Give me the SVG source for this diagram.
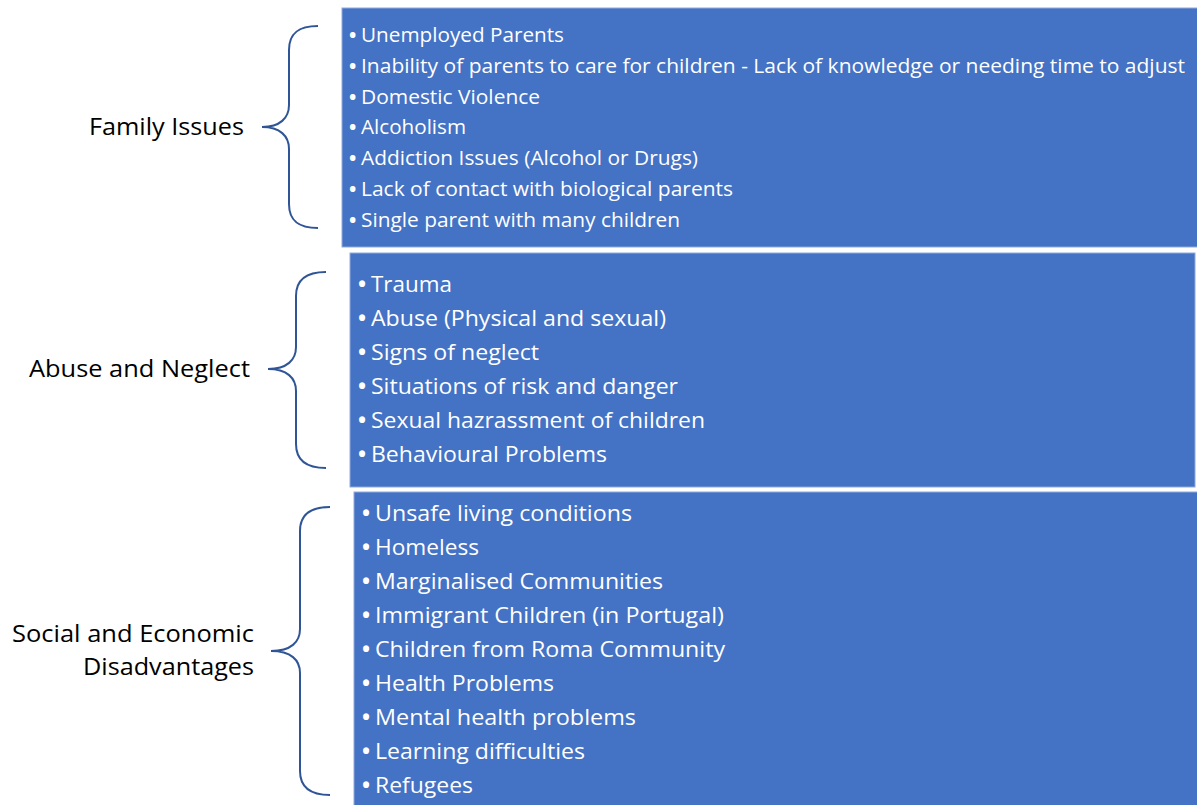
<svg xmlns="http://www.w3.org/2000/svg" width="1197" height="805" viewBox="0 0 1197 805">
<style>
.box{fill:#4472C4;stroke:#8FAADC;stroke-width:1}
.item{font-family:"Open Sans","Noto Sans",sans-serif;fill:#ffffff}
.i1{font-size:19.5px}
.i2{font-size:21.5px}
.b{font-weight:700}
.lbl{font-family:"Open Sans","Noto Sans",sans-serif;font-size:24px;fill:#000000}
.brace{fill:none;stroke:#2F5597;stroke-width:2}
</style>
<rect width="1197" height="805" fill="#ffffff"/>
<g id="connectors">
<path class="brace" d="M318,26 C300,26 289,32 289,50 L289,105 C289,118 280,127 262,127 C280,127 289,136 289,149 L289,204 C289,222 300,228 318,228"/>
<path class="brace" d="M326,272 C308,272 296,278 296,296 L296,347 C296,360 287,369 268,369 C287,369 296,378 296,391 L296,444 C296,462 308,468 326,468"/>
<path class="brace" d="M330,507 C312,507 300,513 300,531 L300,629 C300,642 291,651 271,651 C291,651 300,660 300,673 L300,771 C300,789 312,795 330,795"/>
</g>
<g id="family-label">
<text class="lbl" x="89" y="135" textLength="155" lengthAdjust="spacingAndGlyphs">Family Issues</text>
</g>
<g id="abuse-label">
<text class="lbl" x="29" y="377" textLength="221" lengthAdjust="spacingAndGlyphs">Abuse and Neglect</text>
</g>
<g id="social-label">
<text class="lbl" x="12" y="642" textLength="242" lengthAdjust="spacingAndGlyphs">Social and Economic</text>
<text class="lbl" x="83" y="675" textLength="171" lengthAdjust="spacingAndGlyphs">Disadvantages</text>
</g>
<g id="family-box">
<rect class="box" x="342" y="8" width="856" height="239"/>
<text class="item i1" y="42"><tspan class="b" x="349">•</tspan><tspan x="361" textLength="203" lengthAdjust="spacingAndGlyphs">Unemployed Parents</tspan></text>
<text class="item i1" y="72.8"><tspan class="b" x="349">•</tspan><tspan x="361" textLength="824" lengthAdjust="spacingAndGlyphs">Inability of parents to care for children - Lack of knowledge or needing time to adjust</tspan></text>
<text class="item i1" y="103.6"><tspan class="b" x="349">•</tspan><tspan x="361" textLength="179" lengthAdjust="spacingAndGlyphs">Domestic Violence</tspan></text>
<text class="item i1" y="134.4"><tspan class="b" x="349">•</tspan><tspan x="361" textLength="105" lengthAdjust="spacingAndGlyphs">Alcoholism</tspan></text>
<text class="item i1" y="165.2"><tspan class="b" x="349">•</tspan><tspan x="361" textLength="337" lengthAdjust="spacingAndGlyphs">Addiction Issues (Alcohol or Drugs)</tspan></text>
<text class="item i1" y="196"><tspan class="b" x="349">•</tspan><tspan x="361" textLength="372" lengthAdjust="spacingAndGlyphs">Lack of contact with biological parents</tspan></text>
<text class="item i1" y="226.8"><tspan class="b" x="349">•</tspan><tspan x="361" textLength="319" lengthAdjust="spacingAndGlyphs">Single parent with many children</tspan></text>
</g>
<g id="abuse-box">
<rect class="box" x="350" y="253" width="845" height="234"/>
<text class="item i2" y="291.7"><tspan class="b" x="358">•</tspan><tspan x="371" textLength="81" lengthAdjust="spacingAndGlyphs">Trauma</tspan></text>
<text class="item i2" y="325.7"><tspan class="b" x="358">•</tspan><tspan x="371" textLength="295" lengthAdjust="spacingAndGlyphs">Abuse (Physical and sexual)</tspan></text>
<text class="item i2" y="359.7"><tspan class="b" x="358">•</tspan><tspan x="371" textLength="168" lengthAdjust="spacingAndGlyphs">Signs of neglect</tspan></text>
<text class="item i2" y="393.7"><tspan class="b" x="358">•</tspan><tspan x="371" textLength="307" lengthAdjust="spacingAndGlyphs">Situations of risk and danger</tspan></text>
<text class="item i2" y="427.7"><tspan class="b" x="358">•</tspan><tspan x="371" textLength="334" lengthAdjust="spacingAndGlyphs">Sexual hazrassment of children</tspan></text>
<text class="item i2" y="461.7"><tspan class="b" x="358">•</tspan><tspan x="371" textLength="236" lengthAdjust="spacingAndGlyphs">Behavioural Problems</tspan></text>
</g>
<g id="social-box">
<rect class="box" x="354" y="492" width="844" height="314"/>
<text class="item i2" y="521"><tspan class="b" x="362">•</tspan><tspan x="375" textLength="257" lengthAdjust="spacingAndGlyphs">Unsafe living conditions</tspan></text>
<text class="item i2" y="555"><tspan class="b" x="362">•</tspan><tspan x="375" textLength="104" lengthAdjust="spacingAndGlyphs">Homeless</tspan></text>
<text class="item i2" y="589"><tspan class="b" x="362">•</tspan><tspan x="375" textLength="288" lengthAdjust="spacingAndGlyphs">Marginalised Communities</tspan></text>
<text class="item i2" y="623"><tspan class="b" x="362">•</tspan><tspan x="375" textLength="349" lengthAdjust="spacingAndGlyphs">Immigrant Children (in Portugal)</tspan></text>
<text class="item i2" y="657"><tspan class="b" x="362">•</tspan><tspan x="375" textLength="350" lengthAdjust="spacingAndGlyphs">Children from Roma Community</tspan></text>
<text class="item i2" y="691"><tspan class="b" x="362">•</tspan><tspan x="375" textLength="179" lengthAdjust="spacingAndGlyphs">Health Problems</tspan></text>
<text class="item i2" y="725"><tspan class="b" x="362">•</tspan><tspan x="375" textLength="261" lengthAdjust="spacingAndGlyphs">Mental health problems</tspan></text>
<text class="item i2" y="759"><tspan class="b" x="362">•</tspan><tspan x="375" textLength="210" lengthAdjust="spacingAndGlyphs">Learning difficulties</tspan></text>
<text class="item i2" y="793"><tspan class="b" x="362">•</tspan><tspan x="375" textLength="98" lengthAdjust="spacingAndGlyphs">Refugees</tspan></text>
</g>
</svg>
